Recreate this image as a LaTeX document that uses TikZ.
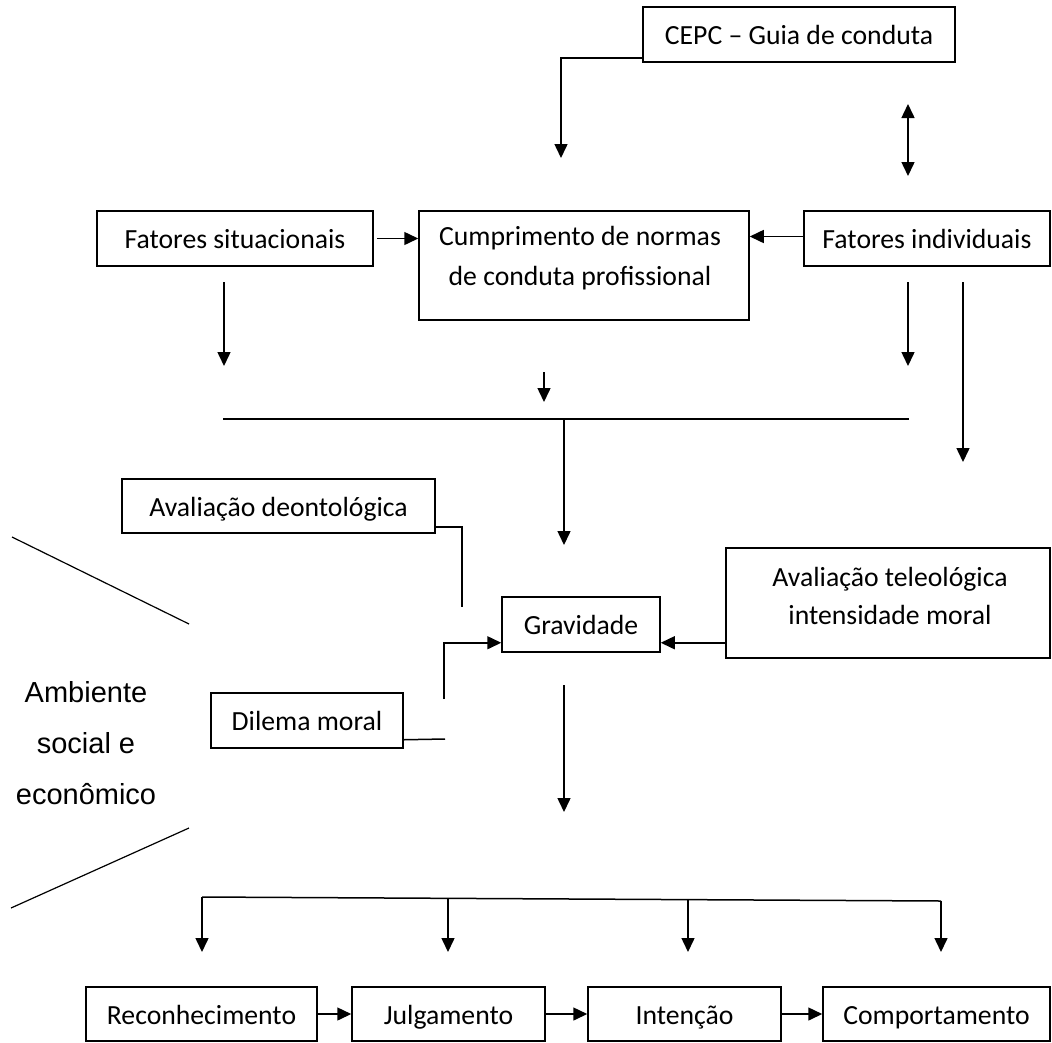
\documentclass[tikz,border=0pt]{standalone}
\usepackage{fontspec}
\setmainfont{Carlito}
\newfontfamily\arialfont{Liberation Sans}
\usetikzlibrary{arrows.meta,calc}
\begin{document}
\begin{tikzpicture}[x=1pt,y=-1pt,
  box/.style={draw, line width=1.5pt, inner sep=0pt, text height=21pt, text depth=1pt,
    font=\fontsize{27.7}{33}\selectfont},
  boxtext/.style={inner sep=0pt, align=center, font=\fontsize{27.7}{40}\selectfont},
  wire/.style={line width=1.5pt},
  arr/.style={wire, -{Triangle[length=14pt,width=13pt]}},
  darr/.style={wire, {Triangle[length=14pt,width=13pt]}-{Triangle[length=14pt,width=13pt]}},
]
\useasboundingbox (0,0) rectangle (1052,1042);

% boxes
\node[box, minimum width=312pt, minimum height=55pt] (cepc) at (799,34.5) {CEPC -- Guia de conduta};
\node[box, minimum width=276pt, minimum height=55pt] (fsit) at (235,238.5) {Fatores situacionais};
\node[box, minimum width=330pt, minimum height=109pt] (cump) at (584,265.5) {};
\node[boxtext] (cumptxt) at (580,258) {Cumprimento de normas\\de conduta profissional};
\node[box, minimum width=246pt, minimum height=55pt] (find) at (927,238.5) {Fatores individuais};
\node[box, minimum width=313pt, minimum height=54pt] (deon) at (278.5,506) {Avaliação deontológica};
\node[box, minimum width=158pt, minimum height=55pt] (grav) at (581,624.5) {Gravidade};
\node[box, minimum width=324pt, minimum height=110pt] (tele) at (888,603) {};
\node[boxtext, font=\fontsize{27.7}{38}\selectfont] (teletxt) at (890,596) {Avaliação teleológica\\intensidade moral};
\node[box, minimum width=192pt, minimum height=55pt] (dil) at (307,720.5) {Dilema moral};
\node[box, minimum width=231pt, minimum height=54pt] (rec) at (201.5,1014) {Reconhecimento};
\node[box, minimum width=193pt, minimum height=54pt] (jul) at (448.5,1014) {Julgamento};
\node[box, minimum width=193pt, minimum height=54pt] (int) at (684.5,1014) {Intenção};
\node[box, minimum width=227pt, minimum height=54pt] (comp) at (936.5,1014) {Comportamento};

% side label
\node[inner sep=0pt, align=center, font=\arialfont\fontsize{29}{51}\selectfont] (amb) at (86,743) {Ambiente\\social e\\econômico};

% free ends of connectors
\coordinate (cepcdrop) at (561,158);
\coordinate (dtop) at (908,104);
\coordinate (dbot) at (908,176);
\coordinate (sitA) at (224,282);
\coordinate (sitB) at (224,366);
\coordinate (midA) at (544,372);
\coordinate (midB) at (544,402);
\coordinate (indA) at (908,282);
\coordinate (indB) at (908,366);
\coordinate (indC) at (963,282);
\coordinate (indD) at (963,462);
\coordinate (hlL) at (223,419);
\coordinate (hlR) at (909,419);
\coordinate (hlM) at (564,419);
\coordinate (gravin) at (564,545);
\coordinate (deonend) at (462,607);
\coordinate (dilend) at (445,739);
\coordinate (dilup) at (444,699);
\coordinate (gravA) at (564,685);
\coordinate (gravB) at (564,812);
\coordinate (diagA) at (12,537);
\coordinate (diagB) at (189,624);
\coordinate (diagC) at (189,828);
\coordinate (diagD) at (11,908);
\coordinate (bA) at (202,897);
\coordinate (bB) at (448,898);
\coordinate (bC) at (688,899);
\coordinate (bD) at (941,901);
\coordinate (tipA) at (202,952);
\coordinate (tipB) at (448,952);
\coordinate (tipC) at (688,952);
\coordinate (tipD) at (941,952);

% connectors, top part
\draw[arr] ([yshift=5pt]cepc.south west) -| (cepcdrop);
\draw[darr] (dtop) -- (dbot);
\draw[arr] ([xshift=3pt]fsit.east) -- (fsit.east -| cump.west);
\draw[arr] ([yshift=2pt]find.west) -- ([yshift=2pt]find.west -| cump.east);
\draw[arr] (sitA) -- (sitB);
\draw[arr] (midA) -- (midB);
\draw[arr] (indA) -- (indB);
\draw[arr] (indC) -- (indD);
\draw[wire] (hlL) -- (hlR);
\draw[arr] (hlM) -- (gravin);

% connectors into Gravidade
\draw[wire] ([yshift=7pt]deon.south east) -| (deonend);
\draw[wire] ([yshift=9pt]dil.south east) -- (dilend);
\draw[arr] (dilup) |- ([yshift=10pt]grav.south west);
\draw[arr] ([yshift=16pt]tele.south west) -- ([yshift=16pt]tele.south west -| grav.east);
\draw[arr] (gravA) -- (gravB);

% diagonal strokes
\draw[line width=1.2pt] (diagA) -- (diagB);
\draw[line width=1.2pt] (diagC) -- (diagD);

% distribution to the four stages
\draw[wire] (bA) -- (bD);
\draw[arr] (bA) -- (tipA);
\draw[arr] (bB) -- (tipB);
\draw[arr] (bC) -- (tipC);
\draw[arr] (bD) -- (tipD);
\draw[arr] (rec) -- (jul);
\draw[arr] (jul) -- (int);
\draw[arr] (int) -- (comp);
\end{tikzpicture}
\end{document}
